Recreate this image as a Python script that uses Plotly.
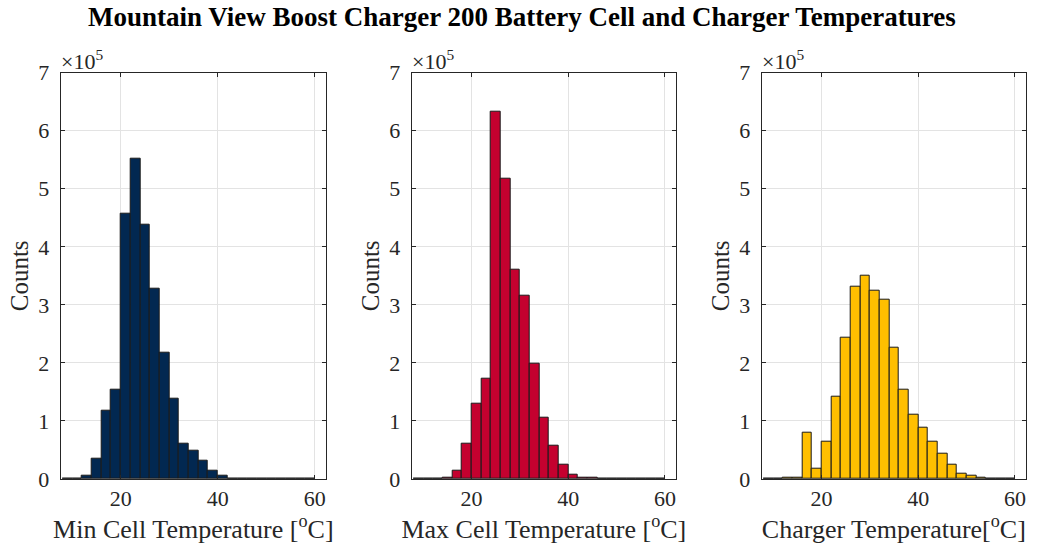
import plotly.graph_objects as go

# bin edges start (degC), bin width 2; counts in units of 1e5
bin_width = 2
bin_starts = list(range(8, 60, 2))  # 8..58

min_cell = [0, 0, 0.06, 0.345, 1.17, 1.54, 4.57, 5.51, 4.38, 3.28, 2.18, 1.38, 0.60, 0.48,
            0.32, 0.14, 0.06, 0.005, 0.002, 0.001, 0.001, 0.001, 0.001, 0.001, 0.001, 0.001]
max_cell = [0.001, 0.002, 0.003, 0.02, 0.14, 0.60, 1.30, 1.72, 6.32, 5.17, 3.61, 3.15, 1.99, 1.06,
            0.57, 0.24, 0.08, 0.02, 0.015, 0.005, 0.002, 0.001, 0.001, 0.001, 0.001, 0.001]
charger = [0, 0, 0.015, 0.02, 0.79, 0.17, 0.64, 1.41, 2.44, 3.31, 3.50, 3.25, 3.09, 2.27,
           1.53, 1.10, 0.88, 0.64, 0.44, 0.24, 0.10, 0.06, 0.02, 0.005, 0.003, 0.002]

x_labels = ["Min Cell Temperature [<sup>o</sup>C]",
            "Max Cell Temperature [<sup>o</sup>C]",
            "Charger Temperature[<sup>o</sup>C]"]
colors = ["#022851", "#C4012F", "#FFBF00"]
series = [min_cell, max_cell, charger]
y_ticks = [0, 1, 2, 3, 4, 5, 6, 7]
x_ticks = [20, 40, 60]

W, H = 1038, 548
panels_px = [(60.7, 326), (411.7, 676), (761.7, 1026)]
top_px, bot_px = 72.7, 479

FONT = "Liberation Serif, Times New Roman, serif"
TXT = "#262626"
centers = [s + bin_width / 2 for s in bin_starts]

fig = go.Figure()
layout = dict(
    width=W, height=H, margin=dict(l=0, r=0, t=0, b=0, autoexpand=False),
    paper_bgcolor="white", plot_bgcolor="white", showlegend=False,
    font=dict(family=FONT, size=22, color=TXT),
    bargap=0,
)
annotations = []
for i, (vals, col, xl) in enumerate(zip(series, colors, x_labels)):
    xa = "x" if i == 0 else f"x{i+1}"
    ya = "y" if i == 0 else f"y{i+1}"
    fig.add_trace(go.Bar(x=centers, y=vals, width=bin_width,
                         marker=dict(color=col, line=dict(color="#1a1a1a", width=1)),
                         xaxis=xa, yaxis=ya))
    x0, x1 = panels_px[i]
    kx = "xaxis" if i == 0 else f"xaxis{i+1}"
    ky = "yaxis" if i == 0 else f"yaxis{i+1}"
    layout[kx] = dict(domain=[x0 / W, x1 / W], range=[7.6, 62.3], anchor=ya, automargin=False,
                      tickvals=x_ticks, ticks="inside", ticklen=4, tickcolor=TXT,
                      showline=True, linecolor=TXT, linewidth=1, mirror="ticks",
                      showgrid=True, gridcolor="#e3e3e3", gridwidth=1, zeroline=False,
                      tickfont=dict(family=FONT, size=22, color=TXT),
                      title=dict(text=xl, font=dict(family=FONT, size=26, color=TXT), standoff=2))
    layout[ky] = dict(domain=[1 - bot_px / H, 1 - top_px / H], range=[0, 7], anchor=xa, automargin=False,
                      tickvals=y_ticks, ticks="inside", ticklen=4, tickcolor=TXT,
                      showline=True, linecolor=TXT, linewidth=1, mirror="ticks",
                      showgrid=True, gridcolor="#e3e3e3", gridwidth=1, zeroline=False,
                      ticklabelstandoff=6,
                      tickfont=dict(family=FONT, size=22, color=TXT),
                      title=dict(text="Counts", font=dict(family=FONT, size=25, color=TXT), standoff=2))
    annotations.append(dict(text="\u00d710<sup>5</sup>", x=x0 / W, y=1 - top_px / H, xref="paper", yref="paper",
                            xanchor="left", yanchor="bottom", showarrow=False, xshift=-2, yshift=-3,
                            font=dict(family=FONT, size=22, color=TXT)))

annotations.append(dict(text="<b>Mountain View Boost Charger 200 Battery Cell and Charger Temperatures</b>",
                        x=522 / W, y=1 - 17 / H, xref="paper", yref="paper", xanchor="center", yanchor="middle",
                        showarrow=False, font=dict(family=FONT, size=27, color="black")))
layout["annotations"] = annotations
fig.update_layout(**layout)
fig.write_html("out.html", config={"displayModeBar": False},
               post_script="document.body.style.margin='0';document.body.style.overflow='hidden';")
